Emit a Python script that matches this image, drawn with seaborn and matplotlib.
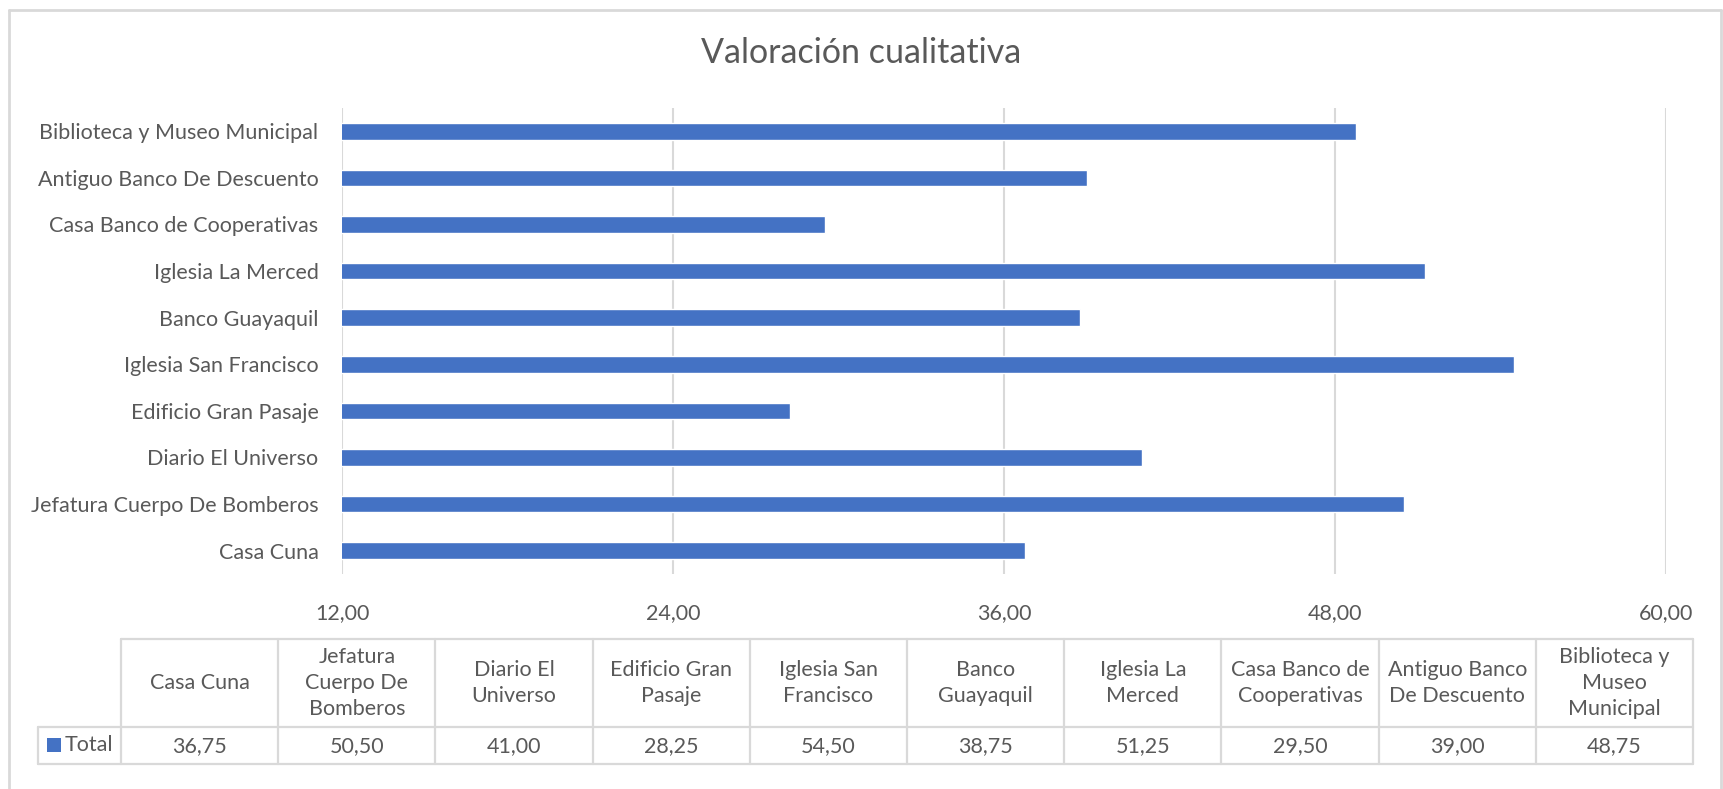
import numpy as np
import pandas as pd
import matplotlib.pyplot as plt
import seaborn as sns
from matplotlib.lines import Line2D
from matplotlib.patches import Rectangle

# data (order as in the data table)
places = ['Casa Cuna', 'Jefatura Cuerpo De Bomberos', 'Diario El Universo',
          'Edificio Gran Pasaje', 'Iglesia San Francisco', 'Banco Guayaquil',
          'Iglesia La Merced', 'Casa Banco de Cooperativas',
          'Antiguo Banco De Descuento', 'Biblioteca y Museo Municipal']
header_labels = ['Casa Cuna', 'Jefatura\nCuerpo De\nBomberos', 'Diario El\nUniverso',
                 'Edificio Gran\nPasaje', 'Iglesia San\nFrancisco', 'Banco\nGuayaquil',
                 'Iglesia La\nMerced', 'Casa Banco de\nCooperativas',
                 'Antiguo Banco\nDe Descuento', 'Biblioteca y\nMuseo\nMunicipal']
totals = [36.75, 50.50, 41.00, 28.25, 54.50, 38.75, 51.25, 29.50, 39.00, 48.75]
x_ticks = [12, 24, 36, 48, 60]

BLUE = '#4472C4'
GREY_TXT = '#595959'
GRID = '#D9D9D9'
FS = 15.5

sns.set_theme(style='white')
plt.rcParams['font.family'] = ['Lato', 'DejaVu Sans']

W, H = 1723, 789
fig = plt.figure(figsize=(W / 100, H / 100), dpi=100)

def fx(px):
    return px / W

def fy(py):
    return 1 - py / H

ax = fig.add_axes([fx(342), fy(574), fx(1666) - fx(342), fy(108) - fy(574)])

df = pd.DataFrame({'place': places, 'total': totals})
sns.barplot(data=df, x='total', y='place', order=places[::-1], orient='h',
            color=BLUE, saturation=1, width=0.36, ax=ax, zorder=3)

ax.set_xlim(12, 60)
ax.set_ylim(9.5, -0.5)
ax.set_xticks(x_ticks)
ax.set_xticklabels([f'{t:.2f}'.replace('.', ',') for t in x_ticks])
ax.tick_params(axis='x', length=0, pad=21, labelsize=FS, labelcolor=GREY_TXT)
ax.tick_params(axis='y', length=0, pad=17, labelsize=FS, labelcolor=GREY_TXT)
ax.set_xlabel('')
ax.set_ylabel('')
ax.grid(axis='x', color=GRID, linewidth=1.5, zorder=0)
ax.grid(axis='y', visible=False)
for s in ax.spines.values():
    s.set_visible(False)

fig.text(0.5, fy(53), 'Valoración cualitativa', ha='center', va='center',
         fontsize=24.5, color=GREY_TXT)

# outer frame
def hline(y, x0, x1, lw=1.6):
    fig.add_artist(Line2D([fx(x0), fx(x1)], [fy(y), fy(y)], color=GRID, lw=lw))

def vline(x, y0, y1, lw=1.6):
    fig.add_artist(Line2D([fx(x), fx(x)], [fy(y0), fy(y1)], color=GRID, lw=lw))

hline(10, 9, 1721, lw=2)
vline(9, 10, 789, lw=2)
vline(1721, 10, 789, lw=2)

# data table
t_left, c0, t_right = 38, 121, 1693
y_top, y_mid, y_bot = 639, 727, 764
cw = (t_right - c0) / len(places)
hline(y_top, c0, t_right)
hline(y_mid, t_left, t_right)
hline(y_bot, t_left, t_right)
vline(t_left, y_mid, y_bot)
for i in range(len(places) + 1):
    vline(c0 + i * cw, y_top, y_bot)

for i, (lab, v) in enumerate(zip(header_labels, totals)):
    cx = c0 + (i + 0.5) * cw
    fig.text(fx(cx), fy((y_top + y_mid) / 2), lab, ha='center', va='center',
             fontsize=FS, color=GREY_TXT, linespacing=1.38)
    fig.text(fx(cx), fy((y_mid + y_bot) / 2 + 1), f'{v:.2f}'.replace('.', ','),
             ha='center', va='center', fontsize=FS, color=GREY_TXT)

fig.add_artist(Rectangle((fx(47), fy(752)), fx(14), fy(738) - fy(752),
                         facecolor=BLUE, edgecolor='none'))
fig.text(fx(65), fy(745), 'Total', ha='left', va='center', fontsize=FS, color=GREY_TXT)

fig.savefig('out.png', dpi=100, facecolor='white')
